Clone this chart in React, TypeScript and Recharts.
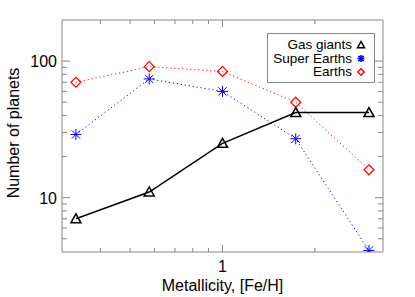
import React from 'react';
import { ComposedChart, Line, XAxis, YAxis, ReferenceArea, Legend } from 'recharts';

// ---- data ----
const metallicity = [0.333, 0.577, 1, 1.732, 3];
const gasGiants = [7, 11, 25, 42, 42];
const superEarths = [29, 74, 60, 27, 4.1];
const earths = [70, 91, 84, 50, 16];

const xTicks = [0.4, 0.5, 0.6, 0.7, 0.8, 0.9, 1, 2];
const xMajorTicks = [1];
const yTicks = [5, 6, 7, 8, 9, 10, 20, 30, 40, 50, 60, 70, 80, 90, 100];
const yMajorTicks = [10, 100];

const seriesNames = ['Gas giants', 'Super Earths', 'Earths'];

const data = metallicity.map((m, i) => ({
  x: m,
  gas: gasGiants[i],
  superE: superEarths[i],
  earth: earths[i],
}));

// ---- layout (page coordinates; chart placed at page origin) ----
const W = 415;
const H = 297;
const PL = 62;
const PR = 383;
const PT = 20;
const PB = 252;
const AXIS = '#888888';
const FONT = '"Liberation Sans", Arial, Helvetica, sans-serif';
const BLUE = '#0000ff';
const RED = '#ff0000';

const XTick = (props: any) => {
  const { x, payload } = props;
  const major = xMajorTicks.includes(payload.value);
  const len = major ? 7 : 4;
  return (
    <g>
      <line x1={x} x2={x} y1={PB} y2={PB - len} stroke={AXIS} strokeWidth={1} />
      <line x1={x} x2={x} y1={PT} y2={PT + len} stroke={AXIS} strokeWidth={1} />
      {major && (
        <text x={x} y={272} textAnchor="middle" fontSize={16} fontFamily={FONT} fill="#000">
          {payload.value}
        </text>
      )}
    </g>
  );
};

const YTick = (props: any) => {
  const { y, payload } = props;
  const major = yMajorTicks.includes(payload.value);
  const len = major ? 8 : 5;
  return (
    <g>
      <line x1={PL} x2={PL + len} y1={y} y2={y} stroke={AXIS} strokeWidth={1} />
      <line x1={PR} x2={PR - len} y1={y} y2={y} stroke={AXIS} strokeWidth={1} />
      {major && (
        <text x={PL - 5} y={y + 6} textAnchor="end" fontSize={16} fontFamily={FONT} fill="#000">
          {payload.value}
        </text>
      )}
    </g>
  );
};

const Triangle = ({ cx, cy, r = 5, sw = 1.5 }: any) => (
  <polygon
    points={`${cx},${cy - r} ${cx - r},${cy + r * 0.8} ${cx + r},${cy + r * 0.8}`}
    fill="none"
    stroke="#000"
    strokeWidth={sw}
  />
);

const Asterisk = ({ cx, cy, r = 5.5, sw = 1 }: any) => {
  const d = r * 0.75;
  return (
    <g stroke={BLUE} strokeWidth={sw}>
      <line x1={cx - r} x2={cx + r} y1={cy} y2={cy} />
      <line x1={cx} x2={cx} y1={cy - r} y2={cy + r} />
      <line x1={cx - d} x2={cx + d} y1={cy - d} y2={cy + d} />
      <line x1={cx - d} x2={cx + d} y1={cy + d} y2={cy - d} />
    </g>
  );
};

const Diamond = ({ cx, cy, r = 5, sw = 1.2 }: any) => (
  <polygon
    points={`${cx},${cy - r} ${cx + r},${cy} ${cx},${cy + r} ${cx - r},${cy}`}
    fill="none"
    stroke={RED}
    strokeWidth={sw}
  />
);

const dotTri = (p: any) => <Triangle key={`t${p.index}`} cx={p.cx} cy={p.cy} />;
const dotAst = (p: any) => <Asterisk key={`a${p.index}`} cx={p.cx} cy={p.cy} />;
const dotDia = (p: any) => <Diamond key={`d${p.index}`} cx={p.cx} cy={p.cy} />;

const LegendBox = () => {
  const rows = [
    { name: seriesNames[0], m: <Triangle cx={94} cy={12} r={3.5} sw={1.5} /> },
    { name: seriesNames[1], m: <Asterisk cx={94} cy={25.5} r={3.5} sw={1.6} /> },
    { name: seriesNames[2], m: <Diamond cx={94} cy={39} r={3.2} sw={1.5} /> },
  ];
  return (
    <svg width={108} height={50} style={{ display: 'block' }}>
      <rect x={0.5} y={0.5} width={107} height={49} fill="#fff" stroke={AXIS} strokeWidth={1} />
      {rows.map((r, i) => (
        <g key={r.name}>
          <text
            x={85}
            y={16 + i * 13.5}
            textAnchor="end"
            fontSize={13.5}
            fontFamily={FONT}
            fill="#000"
          >
            {r.name}
          </text>
          {r.m}
        </g>
      ))}
    </svg>
  );
};

const XTitle = () => (
  <text x={(PL + PR) / 2} y={291} textAnchor="middle" fontSize={16} fontFamily={FONT} fill="#000">
    Metallicity, [Fe/H]
  </text>
);

const YTitle = () => (
  <text
    x={18.5}
    y={133}
    transform={`rotate(-90, 18.5, 133)`}
    textAnchor="middle"
    fontSize={16}
    fontFamily={FONT}
    fill="#000"
  >
    Number of planets
  </text>
);

export default function App() {
  return (
    <div style={{ position: 'absolute', left: 0, top: 0, width: W, height: H }}>
      <ComposedChart
        width={W}
        height={H}
        data={data}
        margin={{ top: PT, right: W - PR, left: 0, bottom: 0 }}
      >
        <XAxis
          dataKey="x"
          type="number"
          scale="log"
          domain={[0.3, 10 / 3]}
          allowDataOverflow
          ticks={xTicks}
          interval={0}
          tick={<XTick />}
          tickLine={false}
          axisLine={false}
          height={H - PB}
          label={{ content: () => <XTitle /> }}
        />
        <YAxis
          type="number"
          scale="log"
          domain={[4, 200]}
          allowDataOverflow
          ticks={yTicks}
          interval={0}
          tick={<YTick />}
          tickLine={false}
          axisLine={false}
          width={PL}
          label={{ content: () => <YTitle /> }}
        />
        <ReferenceArea
          x1={0.3}
          x2={10 / 3}
          y1={4}
          y2={200}
          fill="none"
          fillOpacity={0}
          stroke={AXIS}
          strokeWidth={1}
          ifOverflow="visible"
        />
        <Legend
          layout="vertical"
          align="center"
          verticalAlign="middle"
          content={() => <LegendBox />}
          wrapperStyle={{ position: 'absolute', left: 267, top: 33, width: 108, height: 50 }}
        />
        <Line
          dataKey="earth"
          name={seriesNames[2]}
          stroke={RED}
          strokeWidth={1}
          strokeDasharray="1.2 2.8"
          dot={dotDia}
          isAnimationActive={false}
        />
        <Line
          dataKey="superE"
          name={seriesNames[1]}
          stroke={BLUE}
          strokeWidth={1}
          strokeDasharray="1.2 2.8"
          dot={dotAst}
          isAnimationActive={false}
        />
        <Line
          dataKey="gas"
          name={seriesNames[0]}
          stroke="#000"
          strokeWidth={1.5}
          dot={dotTri}
          isAnimationActive={false}
        />
      </ComposedChart>
    </div>
  );
}
